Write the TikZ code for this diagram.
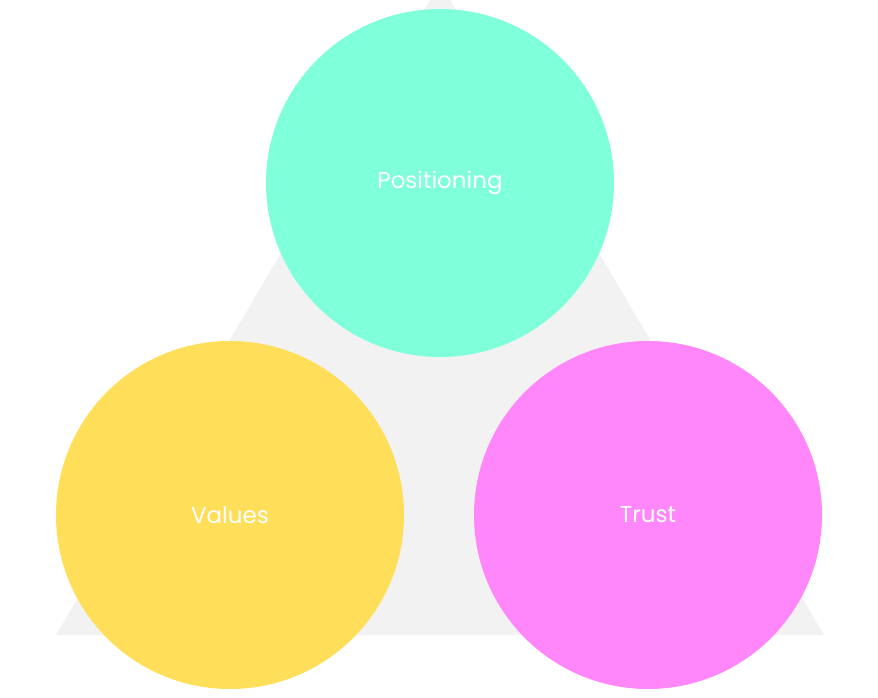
\documentclass[tikz,border=0pt]{standalone}
\usepackage{fontspec}
\setmainfont{Poppins}
\begin{document}
\begin{tikzpicture}[x=1pt,y=-1pt,
  circ/.style={circle,minimum size=348pt,inner sep=0pt,text=white,font=\fontsize{23}{28}\selectfont}]
\useasboundingbox (0,0) rectangle (878,698);
\fill[fill={rgb,255:red,242;green,242;blue,242}] (440,-17) -- (56,635) -- (824,635) -- cycle;
\node[circ,fill={rgb,255:red,128;green,255;blue,219}] (p) at (440,183) {Positioning};
\node[circ,fill={rgb,255:red,255;green,222;blue,89}] (v) at (230,515) {Values};
\node[circ,fill={rgb,255:red,255;green,135;blue,249}] (t) at (648,515) {Trust};
\end{tikzpicture}
\end{document}
